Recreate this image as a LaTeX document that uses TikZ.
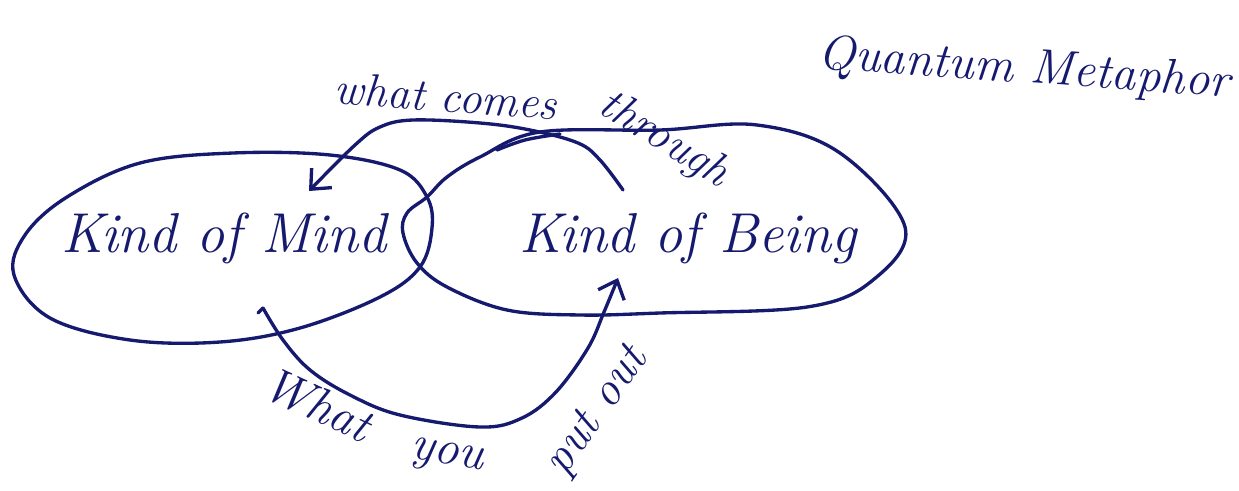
\documentclass[tikz,border=0pt]{standalone}
\usetikzlibrary{arrows.meta}
\definecolor{ink}{RGB}{22,26,110}
\begin{document}
\begin{tikzpicture}[x=0.02cm,y=-0.02cm,
  pen/.style={draw=ink,line width=1.9pt,line cap=round,line join=round},
  barb/.style={-{Straight Barb[length=9pt,width=16pt,line width=1.9pt]}},
  hand/.style={text=ink,inner sep=0pt}]
\useasboundingbox[fill=white] (0,0) rectangle (1239,490);

% left loop: Kind of Mind
\draw[pen] plot[smooth cycle,tension=0.6] coordinates{
  (233,153) (330,155) (400,170) (427,197) (432,228) (420,267) (380,297)
  (300,328) (220,342) (130,340) (50,318) (14,275) (25,235) (67,197) (140,163)};
% right loop: Kind of Being
\draw[pen] plot[smooth cycle,tension=0.6] coordinates{
  (540,132) (660,130) (757,125) (840,153) (905,227) (873,280) (807,307)
  (660,313) (580,315) (507,310) (447,287) (417,263) (403,233) (407,213)
  (427,197) (447,177) (480,157)};
\draw[pen] plot[smooth,tension=0.6] coordinates{(497,150) (525,140) (560,134)};

% nodes
\node[hand,font=\itshape\fontsize{32}{36}\selectfont] (mind) at (224,238) {Kind of Mind};
\node[hand,font=\itshape\fontsize{32}{36}\selectfont] (being) at (688,238) {Kind of Being};
\node[hand,font=\itshape\fontsize{28}{34}\selectfont,rotate=-4] (title) at (1024,70) {Quantum Metaphor};

% connector endpoints
\coordinate (cA) at (623,190);
\coordinate (cB) at (309,191);
\coordinate (pA) at (263,308);
\coordinate (pB) at (618,278);

% what comes through
\draw[pen,barb] plot[smooth,tension=0.6] coordinates{
  (cA) (600,160) (578,143) (530,130) (480,123) (413,120) (380,127) (355,145) (cB)};
% what you put out
\draw[pen,barb] plot[smooth,tension=0.6] coordinates{
  (pA) (283,340) (310,370) (350,395) (400,415) (480,427) (522,418) (556,392)
  (588,348) (604,312) (pB)};
\draw[pen] (pA) -- (258,313);

% labels
\node[hand,font=\itshape\fontsize{26}{30}\selectfont,rotate=-4] (l1) at (446,96) {what comes};
\node[hand,font=\itshape\fontsize{26}{30}\selectfont,rotate=-32] (l2) at (664,140) {through};
\node[hand,font=\itshape\fontsize{28}{32}\selectfont,rotate=-25] (l3) at (318,404) {What};
\node[hand,font=\itshape\fontsize{28}{32}\selectfont,rotate=-10] (l4) at (447,458) {you};
\node[hand,font=\itshape\fontsize{27}{32}\selectfont,rotate=55] (l5) at (598,412) {put out};
\end{tikzpicture}
\end{document}
